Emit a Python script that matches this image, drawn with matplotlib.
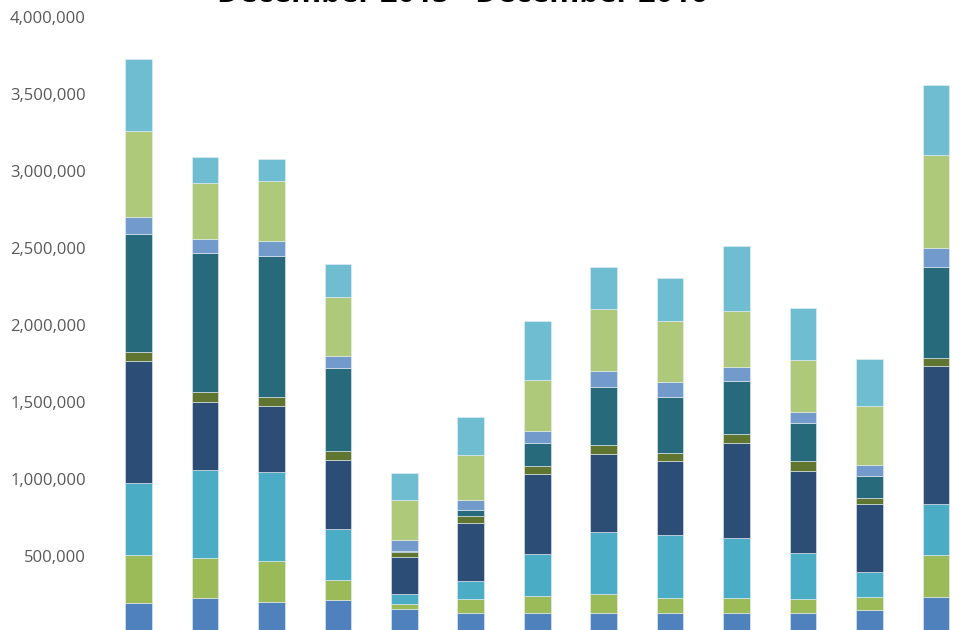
import matplotlib
matplotlib.use("Agg")
import matplotlib.pyplot as plt
from matplotlib.transforms import Bbox
import numpy as np

months = ["Dec-15", "Jan-16", "Feb-16", "Mar-16", "Apr-16", "May-16", "Jun-16",
          "Jul-16", "Aug-16", "Sep-16", "Oct-16", "Nov-16", "Dec-16"]

# stacked series, bottom to top
s1 = [197000, 229000, 203000, 216000, 156000, 132000, 130000, 130000, 132000, 132000, 132000, 152000, 232000]
s2 = [307000, 260000, 265000, 130000, 30000, 87000, 110000, 121000, 93000, 95000, 91000, 80000, 274000]
s3 = [472000, 569000, 580000, 331000, 65000, 116000, 275000, 407000, 409000, 390000, 294000, 164000, 329000]
s4 = [792000, 444000, 428000, 444000, 243000, 381000, 520000, 506000, 481000, 615000, 537000, 442000, 901000]
s5 = [55000, 61000, 56000, 59000, 34000, 44000, 47000, 55000, 54000, 58000, 61000, 41000, 52000]
s6 = [766000, 907000, 918000, 538000, 5000, 36000, 154000, 376000, 366000, 346000, 246000, 138000, 591000]
s7 = [114000, 86000, 95000, 82000, 68000, 70000, 76000, 104000, 95000, 89000, 76000, 74000, 123000]
s8 = [555000, 364000, 388000, 379000, 264000, 288000, 333000, 403000, 394000, 366000, 336000, 381000, 604000]
s9 = [467000, 173000, 143000, 214000, 173000, 246000, 381000, 272000, 279000, 422000, 335000, 307000, 452000]

series = [s1, s2, s3, s4, s5, s6, s7, s8, s9]
colors = ["#4F81BD", "#9BBB59", "#4BACC6", "#2C4D75", "#5F7530",
          "#276A7C", "#729ACA", "#AFC97A", "#6FBDD1"]

yticks = [500000, 1000000, 1500000, 2000000, 2500000, 3000000, 3500000, 4000000]
title = "December 2015 - December 2016"

# taller canvas; the saved picture is the lower 969x630 part
W, H = 969, 660
fig = plt.figure(figsize=(W / 100, H / 100), dpi=100)
ax = fig.add_axes([105.25 / W, -3 / H, 864 / W, 616 / H])

x = np.arange(len(months))
bottom = np.zeros(len(months))
for vals, c in zip(series, colors):
    ax.bar(x, vals, width=0.4, bottom=bottom, color=c, edgecolor="#E8EEF4", linewidth=0.4)
    bottom += np.array(vals)

ax.set_xlim(-0.5, len(months) - 0.5)
ax.set_ylim(0, 4000000)
ax.set_yticks(yticks)
ax.set_yticklabels([f"{v:,}" for v in yticks], fontsize=12, color="#595959", family="Open Sans")
ax.tick_params(axis="y", length=0, pad=14)
ax.set_xticks(x)
ax.set_xticklabels([])
ax.tick_params(axis="x", length=0)
for sp in ax.spines.values():
    sp.set_visible(False)

fig.text(462 / W, 627.5 / H, title, ha="center", va="baseline",
         fontsize=22, fontweight="bold", family="Open Sans")

fig.savefig("out.png", dpi=100, bbox_inches=Bbox.from_bounds(0, 0, 9.69, 6.30))
